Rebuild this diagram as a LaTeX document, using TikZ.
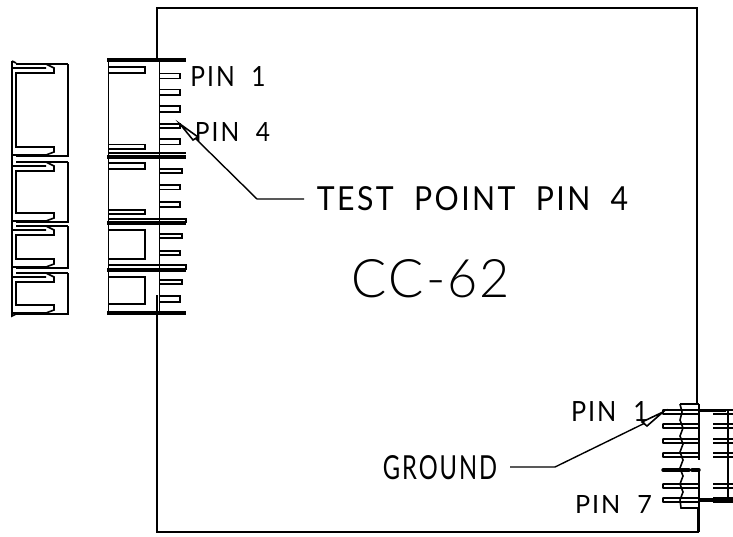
\documentclass[tikz,border=0pt]{standalone}
\usepackage{fontspec}
\usepackage{graphicx}
\setmainfont{Lato}[UprightFont=* Light,LetterSpace=4]
\newfontfamily\labf{Lato}[LetterSpace=8]
\newcommand{\fit}[3]{\resizebox{#1pt}{#2pt}{#3}}
\newcommand{\pinR}[3]{\draw[ln] (159.5,#1) rectangle (#3,#2);}
\newcommand{\padL}[2]{\draw[ln] (108.5,#1) rectangle (145,#2);}
\newcommand{\sectn}[2]{%
  \pgfmathsetmacro{\ta}{#1}\pgfmathsetmacro{\tb}{#1+4}\pgfmathsetmacro{\tc}{#1+9}%
  \pgfmathsetmacro{\ba}{#2}\pgfmathsetmacro{\bb}{#2-1}\pgfmathsetmacro{\bc}{#2-4}\pgfmathsetmacro{\bd}{#2-9}%
  \draw[ln] (68,\ta) -- (68,\ba) -- (16,\ba);
  \draw[ln] (16,\ta) -- (68,\ta);
  \draw[ln] (12,\tb) -- (46,\tb) (46,\ta) -- (54,\tb) -- (54,\tc) -- (16,\tc) -- (16,\bd) -- (54,\bd) -- (54,\bc) -- (46,\bb) -- (12,\bb);
}
\newcommand{\pinC}[1]{%
  \pgfmathsetmacro{\pa}{#1-1.8}\pgfmathsetmacro{\pb}{#1+1.8}%
  \draw[ln,line cap=round] (663,\pa) -- (699,\pa) (663,\pb) -- (699,\pb) (663,\pa) -- (663,\pb);
  \draw[ln] (713,\pa) -- (733,\pa) (713,\pb) -- (733,\pb);
}
\tikzset{
  ln/.style={draw=black,line width=1.6pt,line join=miter},
  thin line/.style={draw=black,line width=1.4pt},
  heavy/.style={draw=black,line width=3.6pt},
  lbl/.style={inner sep=0pt,outer sep=0pt,anchor=center,text=black}
}
\begin{document}
\begin{tikzpicture}[x=1pt,y=-1pt]
\useasboundingbox (0,0) rectangle (733,536);
% board outline
\draw[ln] (157,59) -- (157,8) -- (697,8) -- (697,404);
\draw[ln] (157,314) -- (157,532) -- (698,532) -- (698,508);
% left loose connector
\draw[ln] (12,61) -- (12,316) -- (16,314);
\draw[ln] (12,61) -- (16,63);
\sectn{64}{156}
\sectn{162}{222}
\sectn{226}{268}
\sectn{273}{314}
% front connector
\draw[ln] (108.5,59) -- (108.5,314);
\draw[ln] (159.5,59) -- (159.5,314);
\draw[heavy] (107,60) -- (186,60);
\draw[heavy] (107,157) -- (186,157);
\draw[ln] (108,219) -- (186,219) -- (186,223);
\draw[heavy] (107,223) -- (186,223);
\draw[ln] (108,265) -- (186,265) -- (186,270);
\draw[heavy] (107,270) -- (186,270);
\draw[heavy] (107,313) -- (186,313);
\draw[ln] (108,153) -- (186,153);
\draw[line width=2.6pt] (157,295) -- (157,314);
\padL{67}{73}\padL{144.5}{149}\padL{163}{169}\padL{210}{214}\padL{230}{259}\padL{277}{304}
\pinR{73.5}{78.5}{180}\pinR{89.5}{95}{180}\pinR{106}{112}{180}\pinR{124}{128}{180}\pinR{139}{144.5}{180}
\pinR{169}{173}{182}\pinR{185}{189.5}{180}\pinR{202}{207}{180}\pinR{234}{238}{182}\pinR{251}{255}{180}\pinR{280}{284}{182}\pinR{296}{302}{180}
% lower right connector
\draw[ln] (699,404) -- (680,404);
\draw[ln] (680,404) -- (682,412) -- (680,420) -- (683,428) -- (680,436) -- (683,444) -- (680,452) -- (683,460) -- (680,468) -- (683,476) -- (680,484) -- (683,492) -- (680,500) -- (681,508) -- (699,508);
\draw[ln] (699,404) -- (699,460) (699,470) -- (699,532);
\pinC{412}\pinC{426}\pinC{441}\pinC{455}\pinC{486}\pinC{500}
\draw[line width=3.4pt,line cap=round] (663,470) -- (689,470) (692,470) -- (699,470);
\draw[line width=3pt] (699,410.5) -- (726,410.5);
\draw[ln] (726,410.5) -- (733,410.5);
\draw[ln] (728,410.5) -- (728,500);
\draw[line width=3.4pt] (699,500) -- (726,500);
\draw[ln] (726,500) -- (733,500);
% labels
\node[lbl] (pinone) at (228,76) {\fit{75}{20}{\labf PIN\ \ 1}};
\node[lbl] (pinfour) at (232.5,131.5) {\fit{75}{19}{\labf PIN\ \ 4}};
\node[lbl] (testpt) at (472.5,199) {\fit{311}{24}{\labf TEST\ \ POINT\ \ PIN\ \ 4}};
\node[lbl] (model) at (431,279) {\fit{158}{38}{CC-62}};
\node[lbl] (ground) at (440,468) {\fit{114}{24}{\labf GROUND}};
\node[lbl] (pinonel) at (609.5,411) {\fit{77}{20}{\labf PIN\ \ 1}};
\node[lbl] (pinseven) at (613.5,504) {\fit{77}{18}{\labf PIN\ \ 7}};
% leaders
\coordinate (tpA) at (304,199);
\coordinate (tpB) at (257,199);
\coordinate (tpC) at (195,138);
\coordinate (tpTip) at (180,124);
\coordinate (tpH1) at (198,137);
\coordinate (tpH2) at (193,140);
\draw[thin line] (tpA) -- (tpB) -- (tpC);
\draw[ln] (tpTip) -- (tpH1) -- (tpH2) -- cycle;
\coordinate (gA) at (510,467);
\coordinate (gB) at (555,467);
\coordinate (gC) at (645,423);
\coordinate (gTip) at (663,412);
\coordinate (gH1) at (642,422);
\coordinate (gH2) at (647,426);
\draw[thin line] (gA) -- (gB) -- (gC);
\draw[ln] (gTip) -- (gH1) -- (gH2) -- cycle;
\end{tikzpicture}
\end{document}
